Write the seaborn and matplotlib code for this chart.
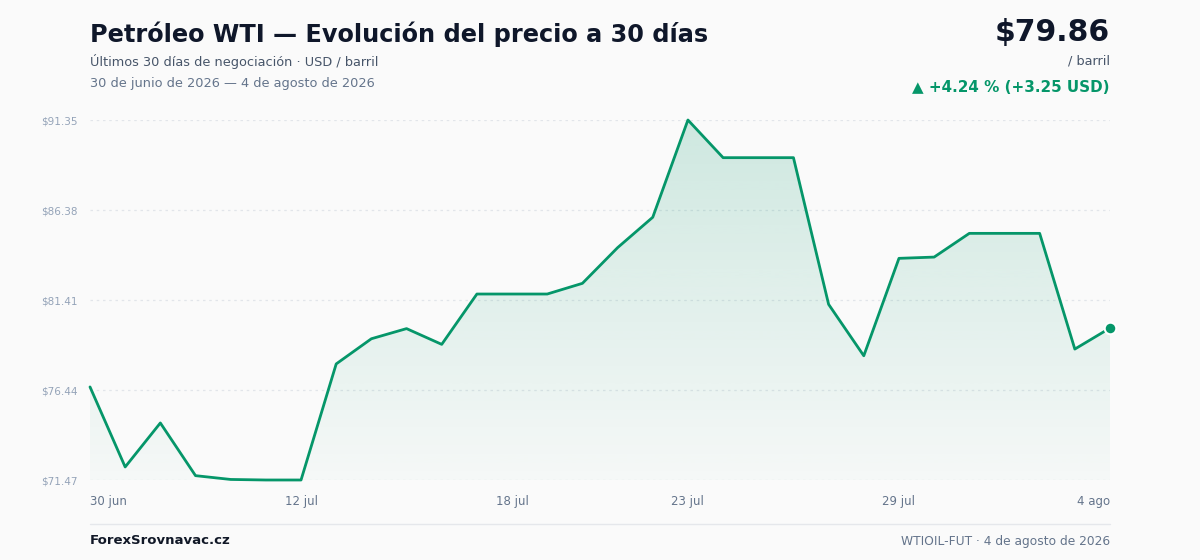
import numpy as np
import pandas as pd
import matplotlib
matplotlib.use("Agg")
import matplotlib.pyplot as plt
import seaborn as sns
from matplotlib.colors import LinearSegmentedColormap

# ---- data ----
prices = [76.61, 72.19, 74.62, 71.71, 71.50, 71.47, 71.47, 77.88, 79.27, 79.83,
          78.96, 81.74, 81.74, 81.74, 82.33, 84.30, 85.98, 91.35, 89.27, 89.27,
          89.27, 81.17, 78.33, 83.71, 83.78, 85.09, 85.09, 85.09, 78.70, 79.86]
day_index = list(range(len(prices)))
tick_positions = [0, 6, 12, 17, 23, 29]
tick_labels = ["30 jun", "12 jul", "18 jul", "23 jul", "29 jul", "4 ago"]
y_ticks = [71.47, 76.44, 81.41, 86.38, 91.35]
y_tick_labels = ["$71.47", "$76.44", "$81.41", "$86.38", "$91.35"]

title = "Petróleo WTI — Evolución del precio a 30 días"
subtitle = "Últimos 30 días de negociación · USD / barril"
date_range = "30 de junio de 2026 — 4 de agosto de 2026"
last_price = "$79.86"
unit = "/ barril"
change = "▲ +4.24 % (+3.25 USD)"
footer_left = "ForexSrovnavac.cz"
footer_right = "WTIOIL-FUT · 4 de agosto de 2026"

df = pd.DataFrame({"i": day_index, "price": prices})

GREEN = "#059669"
BG = "#fafafa"

sns.set_theme(style="white")
plt.rcParams["font.family"] = ["DejaVu Sans"]

fig = plt.figure(figsize=(12, 5.6), dpi=100, facecolor=BG)
ax = fig.add_axes([90 / 1200, 80 / 560, 1020 / 1200, 360 / 560])
ax.set_facecolor(BG)

ymin, ymax = min(y_ticks), max(y_ticks)
ax.set_xlim(0, len(prices) - 1)
ax.set_ylim(ymin, ymax)

# gradient fill under the line
poly = ax.fill_between(df["i"], df["price"], ymin, color="none", lw=0)
grad = np.linspace(0.0, 1.0, 256).reshape(-1, 1)
cmap = LinearSegmentedColormap.from_list(
    "g", [(5/255, 150/255, 105/255, 0.02), (5/255, 150/255, 105/255, 0.18)])
img = ax.imshow(grad, extent=[0, len(prices) - 1, ymin, ymax], origin="lower",
                aspect="auto", cmap=cmap, zorder=1, interpolation="bicubic")
path = poly.get_paths()[0]
img.set_clip_path(path, transform=ax.transData)

# grid lines
for yt in y_ticks:
    ax.axhline(yt, color="#e2e5ea", lw=0.9, ls=(0, (2, 3)), zorder=0.5)

sns.lineplot(data=df, x="i", y="price", ax=ax, color=GREEN, lw=2.0, zorder=3,
             clip_on=False)
ax.scatter([day_index[-1]], [prices[-1]], s=70, color=GREEN, edgecolor="white",
           linewidth=1.5, zorder=4, clip_on=False)

for s in ax.spines.values():
    s.set_visible(False)
ax.set_xlabel("")
ax.set_ylabel("")
ax.set_yticks(y_ticks)
ax.set_yticklabels(y_tick_labels, fontsize=7.5, color="#94a3b8")
ax.tick_params(axis="y", length=0, pad=9)
ax.set_xticks(tick_positions)
ax.set_xticklabels(tick_labels, fontsize=8.5, color="#64748b")
ax.tick_params(axis="x", length=0, pad=11)
xt = ax.get_xticklabels()
xt[0].set_ha("left")
xt[-1].set_ha("right")

# header texts
fig.text(90 / 1200, 1 - 34 / 560, title, fontsize=17.25, fontweight="bold",
         color="#0f172a", ha="left", va="center")
fig.text(90 / 1200, 1 - 61 / 560, subtitle, fontsize=9.3, color="#475569",
         ha="left", va="center")
fig.text(90 / 1200, 1 - 83 / 560, date_range, fontsize=9.3, color="#64748b",
         ha="left", va="center")
fig.text(1110 / 1200, 1 - 33 / 560, last_price, fontsize=21.5, fontweight="bold",
         color="#0f172a", ha="right", va="center")
fig.text(1110 / 1200, 1 - 61 / 560, unit, fontsize=9.3, color="#475569",
         ha="right", va="center")
fig.text(1110 / 1200, 1 - 87 / 560, change, fontsize=10.9, fontweight="bold",
         color=GREEN, ha="right", va="center")

# footer
fig.add_artist(plt.Line2D([90 / 1200, 1110 / 1200], [1 - 524 / 560, 1 - 524 / 560],
                          color="#e5e7eb", lw=1.0))
fig.text(90 / 1200, 1 - 541 / 560, footer_left, fontsize=9.5, fontweight="bold",
         color="#111827", ha="left", va="center")
fig.text(1110 / 1200, 1 - 541 / 560, footer_right, fontsize=8.8, color="#64748b",
         ha="right", va="center")

fig.savefig("out.png", dpi=100, facecolor=BG)
